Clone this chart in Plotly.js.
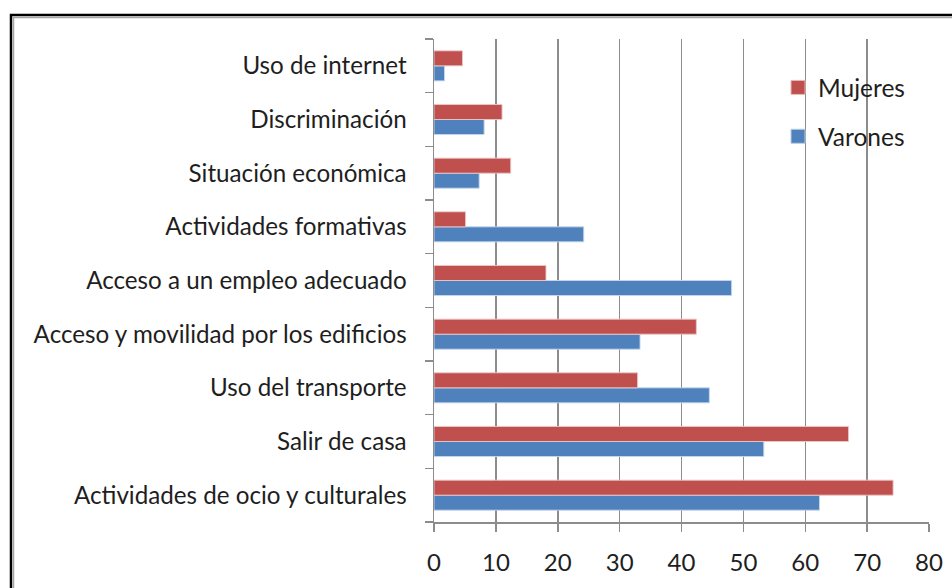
<!DOCTYPE html>
<html>
<head>
<meta charset="utf-8">
<script src="https://cdn.plot.ly/plotly-3.0.1.min.js"></script>
<style>html,body{margin:0;padding:0;background:#fff;}#chart{width:952px;height:588px;}</style>
</head>
<body>
<div id="chart"></div>
<script>
// Categories, bottom to top
var categories = [
  "Actividades de ocio y culturales",
  "Salir de casa",
  "Uso del transporte",
  "Acceso y movilidad por los edificios",
  "Acceso a un empleo adecuado",
  "Actividades formativas",
  "Situación económica",
  "Discriminación",
  "Uso de internet"
];
var mujeres = [74.2, 67.0, 32.9, 42.4, 18.1, 5.1, 12.4, 11.0, 4.6];
var varones = [62.3, 53.3, 44.5, 33.3, 48.1, 24.2, 7.3, 8.1, 1.7];
var xTicks = [0, 10, 20, 30, 40, 50, 60, 70, 80];
var seriesNames = ["Mujeres", "Varones"];

var W = 952, H = 588;
var L = 434, R = 23, T = 39, B = 66;
var pw = W - L - R, ph = H - T - B;
function px(x){ return (x - L) / pw; }
function py(y){ return 1 - (y - T) / ph; }

var FAM = "Lato, Open Sans, sans-serif";
var TXT = "#1e1e1e";
var RED = "#C0504D", BLUE = "#4F81BD";

var traces = [
  {type: "bar", orientation: "h", name: seriesNames[1], y: categories, x: varones,
   showlegend: false,
   marker: {color: BLUE, line: {color: "rgba(200,215,235,0.9)", width: 1}}},
  {type: "bar", orientation: "h", name: seriesNames[0], y: categories, x: mujeres,
   showlegend: false,
   marker: {color: RED, line: {color: "rgba(235,200,200,0.9)", width: 1}}},
  // legend entries
  {type: "scatter", mode: "markers", name: seriesNames[0], x: [null], y: [null],
   legendgroup: "m", legendrank: 1,
   marker: {symbol: "square", size: 14, color: RED, line: {color: "#e8b8b6", width: 1}}},
  {type: "scatter", mode: "markers", name: seriesNames[1], x: [null], y: [null],
   legendgroup: "v", legendrank: 2,
   marker: {symbol: "square", size: 14, color: BLUE, line: {color: "#b8cbe3", width: 1}}}
];

var layout = {
  width: W, height: H,
  margin: {l: L, r: R, t: T, b: B, pad: 0},
  paper_bgcolor: "#fff", plot_bgcolor: "#fff",
  barmode: "group", bargap: 0.44, bargroupgap: 0,
  font: {family: FAM, size: 24, color: TXT},
  showlegend: true,
  legend: {
    x: px(778), y: py(65), xanchor: "left", yanchor: "top",
    traceorder: "grouped", tracegroupgap: 14,
    font: {family: FAM, size: 24.5, color: TXT},
    bgcolor: "rgba(0,0,0,0)", itemwidth: 30
  },
  xaxis: {
    range: [0, 80], tickvals: xTicks, ticktext: xTicks.map(String),
    showgrid: true, gridcolor: "#8c8c8c", gridwidth: 1.5,
    zeroline: false, showline: true, linecolor: "#8c8c8c", linewidth: 1.5,
    ticks: "outside", ticklen: 8, tickcolor: "#8c8c8c", tickwidth: 1.5,
    ticklabelstandoff: 11,
    tickfont: {family: FAM, size: 24, color: TXT},
    fixedrange: true
  },
  yaxis: {
    type: "category", categoryorder: "array", categoryarray: categories,
    showgrid: false, zeroline: false,
    showline: true, linecolor: "#8c8c8c", linewidth: 1.5,
    ticks: "outside", tickson: "boundaries", ticklen: 8, tickcolor: "#8c8c8c", tickwidth: 1.5,
    ticklabelstandoff: 21,
    tickfont: {family: FAM, size: 24.2, color: TXT},
    fixedrange: true
  },
  shapes: [
    {type: "rect", xref: "paper", yref: "paper",
     x0: px(11), x1: px(980), y0: py(15), y1: py(620),
     line: {color: "#000", width: 2.5}, fillcolor: "rgba(0,0,0,0)", layer: "above"},
    {type: "rect", xref: "paper", yref: "paper",
     x0: px(13.5), x1: px(980), y0: py(17.5), y1: py(620),
     line: {color: "#a6a6a6", width: 1.5}, fillcolor: "rgba(0,0,0,0)", layer: "above"}
  ]
};

Plotly.newPlot("chart", traces, layout, {displayModeBar: false, staticPlot: true});
</script>
</body>
</html>
